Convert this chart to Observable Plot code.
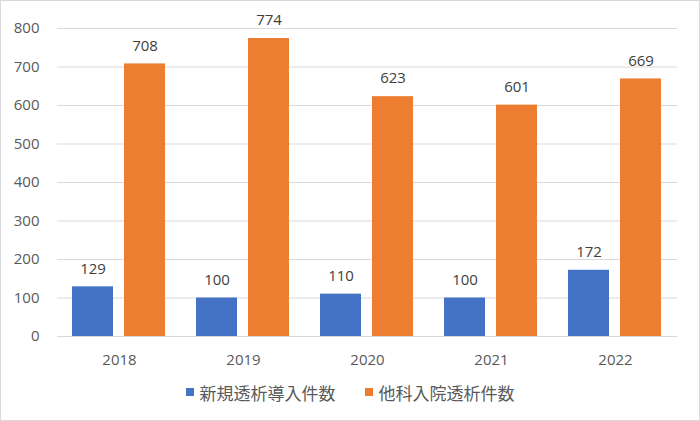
<!DOCTYPE html>
<html>
<head>
<meta charset="utf-8">
<script src="https://cdn.jsdelivr.net/npm/d3@7"></script>
<script src="https://cdn.jsdelivr.net/npm/@observablehq/plot@0.6"></script>
<style>
  html, body { margin: 0; padding: 0; background: #fff; }
  #chart {
    box-sizing: border-box;
    width: 700px; height: 421px;
    border: 1px solid #d9d9d9;
    background: #fff;
    overflow: hidden;
  }
  #chart svg { display: block; }
  .legend {
    height: 38px;
    display: flex; align-items: center; justify-content: center;
    font-family: "Noto Sans CJK JP", sans-serif;
    font-size: 17px; color: #595959;
  }
  .legend .item { display: flex; align-items: center; }
  .legend .item + .item { margin-left: 29px; }
  .legend .sw { width: 8px; height: 8px; margin-right: 6px; }
</style>
</head>
<body>
<div id="chart"></div>
<script>
const years = ["2018", "2019", "2020", "2021", "2022"];
const seriesNames = ["新規透析導入件数", "他科入院透析件数"];
const newDialysis = [129, 100, 110, 100, 172];
const otherDeptDialysis = [708, 774, 623, 601, 669];
const yTicks = [0, 100, 200, 300, 400, 500, 600, 700, 800];
const colors = ["#4472C4", "#ED7D31"];

const data = years.flatMap((y, i) => [
  { year: y, series: seriesNames[0], value: newDialysis[i] },
  { year: y, series: seriesNames[1], value: otherDeptDialysis[i] }
]);

const plot = Plot.plot({
  width: 698,
  height: 372,
  marginLeft: 56,
  marginRight: 22,
  marginTop: 27,
  marginBottom: 37,
  style: { fontFamily: "'Open Sans', sans-serif", fontSize: "15px", color: "#595959", background: "#fff" },
  fx: { domain: years, padding: 0, label: null },
  x: { domain: seriesNames, axis: null, paddingInner: 0.2115, paddingOuter: 0.298 },
  y: { domain: [0, 800], label: null },
  color: { domain: seriesNames, range: colors },
  marks: [
    Plot.gridY(yTicks, { stroke: "#d9d9d9", strokeOpacity: 1 }),
    Plot.axisY(yTicks, { tickSize: 0, tickPadding: 18, label: null }),
    Plot.axisFx({ anchor: "bottom", tickSize: 0, tickPadding: 18, label: null }),
    Plot.barY(data, { fx: "year", x: "series", y: "value", fill: "series" }),
    Plot.text(data, { fx: "year", x: "series", y: "value", text: d => String(d.value), dy: -18, fill: "#404040", fontSize: 15 })
  ]
});

const chart = document.getElementById("chart");
chart.appendChild(plot);

const legend = document.createElement("div");
legend.className = "legend";
seriesNames.forEach((name, i) => {
  const item = document.createElement("div");
  item.className = "item";
  const sw = document.createElement("span");
  sw.className = "sw";
  sw.style.background = colors[i];
  const label = document.createElement("span");
  label.textContent = name;
  item.appendChild(sw);
  item.appendChild(label);
  legend.appendChild(item);
});
chart.appendChild(legend);
</script>
</body>
</html>
